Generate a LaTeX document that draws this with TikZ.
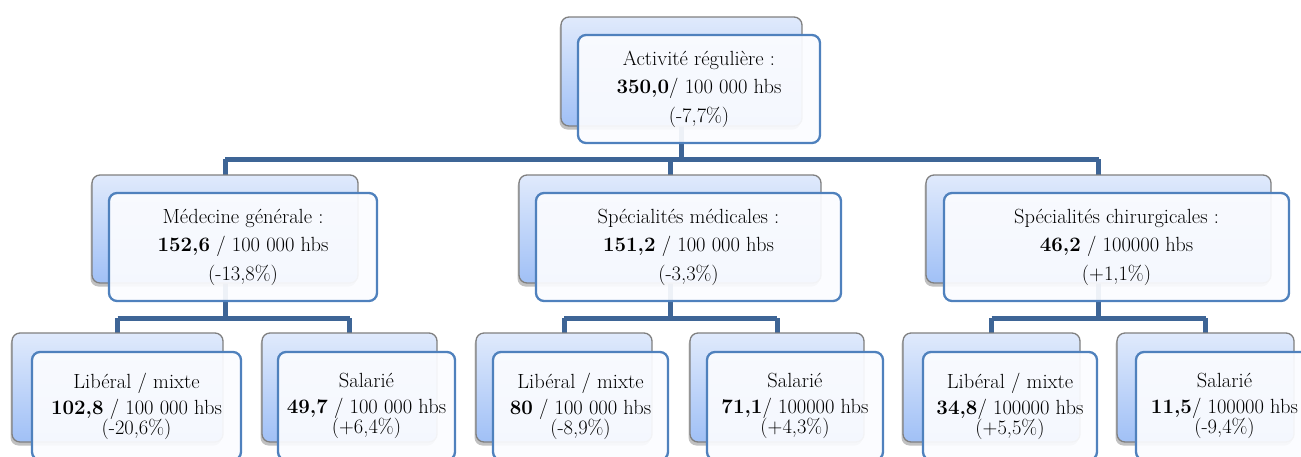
\documentclass[tikz,border=0pt]{standalone}
\usetikzlibrary{shadows}
\definecolor{conncol}{RGB}{62,101,150}
\definecolor{connshadow}{RGB}{165,180,204}
\definecolor{backtop}{RGB}{224,234,252}
\definecolor{backbot}{RGB}{160,192,246}
\definecolor{backborder}{RGB}{128,128,128}
\definecolor{frontborder}{RGB}{79,129,189}
\definecolor{frontfill}{RGB}{251,252,255}
\tikzset{
  backbox/.style={rectangle, rounded corners=8pt, draw=backborder, line width=1.3pt,
    top color=backtop, bottom color=backbot, inner sep=0pt, outer sep=0pt,
    drop shadow={shadow xshift=-1.5pt, shadow yshift=-3.5pt, opacity=0.35, fill=black!70}},
  frontbox/.style={rectangle, rounded corners=8pt, draw=frontborder, line width=2.3pt,
    fill=frontfill, fill opacity=0.93, draw opacity=1, text opacity=1, inner sep=0pt, outer sep=0pt,
    align=center, font=\fontsize{20.5}{28.5}\selectfont},
  lowbox/.style={frontbox, font=\fontsize{20.5}{26}\selectfont},
  conn/.style={draw=conncol, line width=5pt},
  connsh/.style={draw=connshadow, line width=5pt, yshift=-2pt}
}
\begin{document}
\begin{tikzpicture}[x=1pt,y=-1pt]
\useasboundingbox (0,0) rectangle (1301,456);
\clip (0,0) rectangle (1301,456);
% bar levels
\coordinate (bar1) at (0,159);
\coordinate (bar2) at (0,318);
% box centres
\path (681.5,71.5) coordinate (tbc);
\path (225,229) coordinate (mbc);
\path (670,229) coordinate (sbc);
\path (1098.5,229) coordinate (cbc);
\path (117.5,387.5) coordinate (l1c);
\path (349.5,387.5) coordinate (s1c);
\path (564,387.5) coordinate (l2c);
\path (777,387.5) coordinate (s2c);
\path (991.5,387.5) coordinate (l3c);
\path (1205.5,387.5) coordinate (s3c);
% connectors (shadow then line)
\foreach \st in {connsh,conn}{
  \draw[\st] (tbc) -- (tbc |- bar1);
  \draw[\st] (mbc |- bar1) -- (cbc |- bar1);
  \draw[\st] (mbc |- bar1) -- (mbc);
  \draw[\st] (sbc |- bar1) -- (sbc);
  \draw[\st] (cbc |- bar1) -- (cbc);
  \draw[\st] (mbc) -- (mbc |- bar2);
  \draw[\st] (sbc) -- (sbc |- bar2);
  \draw[\st] (cbc) -- (cbc |- bar2);
  \draw[\st] (l1c |- bar2) -- (s1c |- bar2);
  \draw[\st] (l2c |- bar2) -- (s2c |- bar2);
  \draw[\st] (l3c |- bar2) -- (s3c |- bar2);
  \draw[\st] (l1c |- bar2) -- (l1c);
  \draw[\st] (s1c |- bar2) -- (s1c);
  \draw[\st] (l2c |- bar2) -- (l2c);
  \draw[\st] (s2c |- bar2) -- (s2c);
  \draw[\st] (l3c |- bar2) -- (l3c);
  \draw[\st] (s3c |- bar2) -- (s3c);
}
% back boxes
\node[backbox, minimum width=241pt, minimum height=109pt] (tb) at (tbc) {};
\node[backbox, minimum width=266pt, minimum height=108pt] (mb) at (mbc) {};
\node[backbox, minimum width=302pt, minimum height=108pt] (sb) at (sbc) {};
\node[backbox, minimum width=345pt, minimum height=108pt] (cb) at (cbc) {};
\node[backbox, minimum width=211pt, minimum height=109pt] (l1b) at (l1c) {};
\node[backbox, minimum width=175pt, minimum height=109pt] (s1b) at (s1c) {};
\node[backbox, minimum width=176pt, minimum height=109pt] (l2b) at (l2c) {};
\node[backbox, minimum width=174pt, minimum height=109pt] (s2b) at (s2c) {};
\node[backbox, minimum width=177pt, minimum height=109pt] (l3b) at (l3c) {};
\node[backbox, minimum width=177pt, minimum height=109pt] (s3b) at (s3c) {};
% front boxes
\node[frontbox, minimum width=242pt, minimum height=108pt] (tf) at (699,89)
  {Activité régulière :\\\textbf{350,0}/ 100 000 hbs\\(-7,7\%)};
\node[frontbox, minimum width=268pt, minimum height=108pt] (mf) at (243,247)
  {Médecine générale :\\\textbf{152,6} / 100 000 hbs\\(-13,8\%)};
\node[frontbox, minimum width=305pt, minimum height=108pt] (sf) at (688.5,247)
  {Spécialités médicales :\\\textbf{151,2} / 100 000 hbs\\(-3,3\%)};
\node[frontbox, minimum width=345pt, minimum height=108pt] (cf) at (1116.5,247)
  {Spécialités chirurgicales :\\\textbf{46,2} / 100000 hbs\\(+1,1\%)};
\node[lowbox, minimum width=209pt, minimum height=108pt] (l1f) at (136.5,406)
  {Libéral / mixte\\\textbf{102,8} / 100 000 hbs\\[-6pt](-20,6\%)};
\node[lowbox, minimum width=177pt, minimum height=108pt] (s1f) at (366.5,406)
  {Salarié\\\textbf{49,7} / 100 000 hbs\\[-6pt](+6,4\%)};
\node[lowbox, minimum width=175pt, minimum height=108pt] (l2f) at (580.5,406)
  {Libéral / mixte\\\textbf{80} / 100 000 hbs\\[-6pt](-8,9\%)};
\node[lowbox, minimum width=176pt, minimum height=108pt] (s2f) at (795,406)
  {Salarié\\\textbf{71,1}/ 100000 hbs\\[-6pt](+4,3\%)};
\node[lowbox, minimum width=174pt, minimum height=108pt] (l3f) at (1010,406)
  {Libéral / mixte\\\textbf{34,8}/ 100000 hbs\\[-6pt](+5,5\%)};
\node[lowbox, minimum width=177pt, minimum height=108pt] (s3f) at (1224.5,406)
  {Salarié\\\textbf{11,5}/ 100000 hbs\\[-6pt](-9,4\%)};
\end{tikzpicture}
\end{document}
